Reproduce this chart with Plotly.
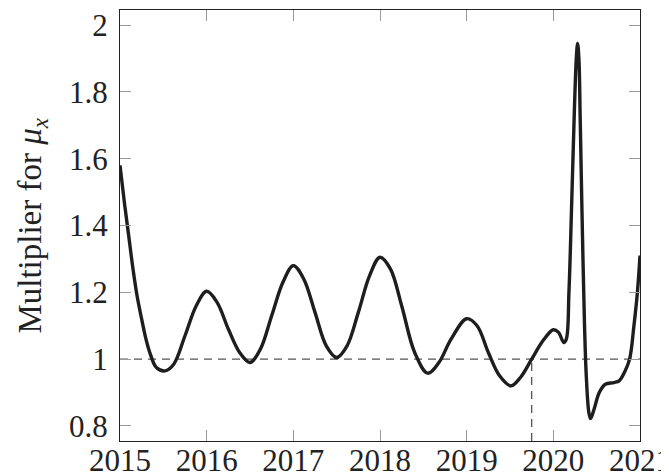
import plotly.graph_objects as go

# Curve values
years = [2015.00, 2015.05, 2015.10, 2015.15, 2015.20, 2015.25, 2015.30, 2015.35,
         2015.42, 2015.52, 2015.62, 2015.75, 2015.88, 2016.00, 2016.12, 2016.25,
         2016.38, 2016.50, 2016.62, 2016.75, 2016.88, 2017.00, 2017.12, 2017.25,
         2017.38, 2017.50, 2017.62, 2017.75, 2017.88, 2018.00, 2018.12, 2018.25,
         2018.40, 2018.55, 2018.68, 2018.82, 2019.00, 2019.12, 2019.25, 2019.38,
         2019.51, 2019.62, 2019.75, 2019.88, 2020.00, 2020.06, 2020.12, 2020.15,
         2020.18, 2020.21, 2020.24, 2020.265, 2020.28, 2020.295, 2020.31, 2020.33,
         2020.36, 2020.38, 2020.41, 2020.43, 2020.47, 2020.53, 2020.60, 2020.70,
         2020.76, 2020.82, 2020.88, 2020.93, 2020.97, 2021.00]
multiplier = [1.58, 1.47, 1.37, 1.27, 1.185, 1.12, 1.06, 1.015,
              0.975, 0.965, 0.985, 1.07, 1.16, 1.203, 1.17, 1.09,
              1.02, 0.99, 1.03, 1.13, 1.23, 1.28, 1.24, 1.14,
              1.04, 1.005, 1.04, 1.14, 1.25, 1.305, 1.27, 1.16,
              1.02, 0.958, 0.99, 1.06, 1.121, 1.10, 1.02, 0.95,
              0.92, 0.945, 1.00, 1.055, 1.088, 1.08, 1.05, 1.06,
              1.20, 1.45, 1.72, 1.90, 1.945, 1.90, 1.72, 1.45,
              1.10, 0.95, 0.84, 0.822, 0.85, 0.90, 0.925, 0.93,
              0.935, 0.96, 1.00, 1.10, 1.20, 1.31]

reference_level = 1.0
crossing_year = 2019.75

x_ticks = [2015, 2016, 2017, 2018, 2019, 2020, 2021]
x_tick_labels = ["2015", "2016", "2017", "2018", "2019", "2020", "2021"]
y_ticks = [0.8, 1.0, 1.2, 1.4, 1.6, 1.8, 2.0]
y_tick_labels = ["0.8", "1", "1.2", "1.4", "1.6", "1.8", "2"]
y_title = "Multiplier for <i>μ</i><sub><i>x</i></sub>"

x_range = [2015, 2021]
y_range = [0.755, 2.045]

font_family = "Liberation Serif"

fig = go.Figure()

fig.add_trace(go.Scatter(
    x=x_range, y=[reference_level, reference_level], mode="lines",
    line=dict(color="#555555", width=1.3, dash="8px,6px"),
    hoverinfo="skip", showlegend=False))
fig.add_trace(go.Scatter(
    x=[crossing_year, crossing_year], y=[y_range[0], reference_level], mode="lines",
    line=dict(color="#555555", width=1.3, dash="8px,6px"),
    hoverinfo="skip", showlegend=False))
fig.add_trace(go.Scatter(
    x=years, y=multiplier, mode="lines",
    line=dict(color="#1e1e1e", width=3.4, shape="spline", smoothing=1.0),
    showlegend=False))

axis_common = dict(
    showgrid=False, zeroline=False, showline=True, linecolor="#222222", linewidth=1.2,
    mirror="ticks", ticks="inside", ticklen=11, tickcolor="#9a9a9a", tickwidth=1,
    tickfont=dict(family=font_family, size=31, color="#222222"),
    ticklabeloverflow="allow", automargin=False,
)

fig.update_xaxes(range=x_range, tickvals=x_ticks, ticktext=x_tick_labels,
                 ticklabelstandoff=-8, **axis_common)
fig.update_yaxes(range=y_range, tickvals=y_ticks, ticktext=y_tick_labels,
                 ticklabelstandoff=5, **axis_common)

fig.add_annotation(
    text=y_title, textangle=-90, showarrow=False,
    xref="paper", yref="paper", x=-0.169, y=0.5,
    xanchor="center", yanchor="middle",
    font=dict(family=font_family, size=33, color="#222222"),
)

# page body has an 8px margin, so the figure is sized to fit the 669x475 window
fig.update_layout(
    template="none",
    width=661, height=467,
    margin=dict(l=112, r=29, t=2, b=34),
    paper_bgcolor="white", plot_bgcolor="white",
    font=dict(family=font_family),
)

fig.write_html("out.html")
